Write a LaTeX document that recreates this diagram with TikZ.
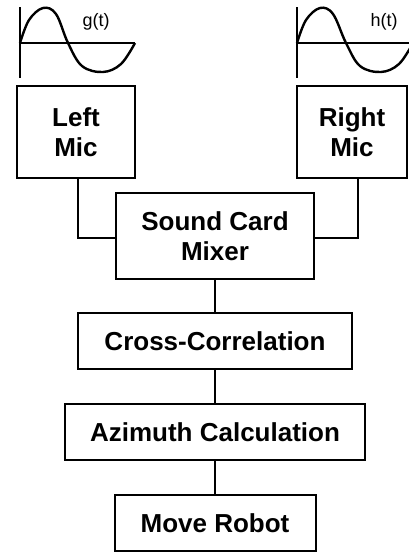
\documentclass[tikz,border=0pt]{standalone}
\usepackage{fontspec}
\setmainfont{Liberation Sans}
\begin{document}
\begin{tikzpicture}[x=1pt,y=-1pt,
  blk/.style={draw=black,line width=2pt,align=center,inner sep=0pt,
    font=\fontsize{26}{30}\selectfont\bfseries},
  wire/.style={line width=2pt},
  wave/.style={line width=2.4pt},
  lbl/.style={font=\fontsize{18}{20}\selectfont,inner sep=0pt}]
\useasboundingbox (0,0) rectangle (409,554);
\begin{scope}
\clip (0,0) rectangle (409,554);
% left signal
\draw[wave] (20,7) -- (20,78);
\draw[wave] (20,43) -- (135,43);
\draw[wave] plot[smooth,tension=0.6] coordinates {(20,43) (29,20) (43,8) (56,14) (68,43) (82,66) (103,72) (121,64) (135,43)};
% right signal
\draw[wave] (297,7) -- (297,78);
\draw[wave] (297,43) -- (409,43);
\draw[wave] plot[smooth,tension=0.6] coordinates {(297,43) (306,20) (320,8) (333,14) (346,43) (360,66) (381,72) (399,64) (413,43)};
\end{scope}
\node[lbl] (g) at (96,22) {g(t)};
\node[lbl] (h) at (384,22) {h(t)};
% blocks
\node[blk,minimum width=118pt,minimum height=92pt] (lm) at (76,132) {Left\\Mic};
\node[blk,minimum width=110pt,minimum height=92pt] (rm) at (352,132) {Right\\Mic};
\node[blk,minimum width=198pt,minimum height=86pt] (mix) at (215,236) {Sound Card\\Mixer};
\node[blk,minimum width=274pt,minimum height=56pt] (cc) at (215,341) {Cross-Correlation};
\node[blk,minimum width=300pt,minimum height=56pt] (az) at (215,432) {Azimuth Calculation};
\node[blk,minimum width=201pt,minimum height=56pt] (mr) at (215,523) {Move Robot};
% connectors
\draw[wire] (lm.south -| 78,0) |- (mix.west |- 0,238);
\draw[wire] (rm.south -| 358,0) |- (mix.east |- 0,238);
\draw[wire] (mix) -- (cc);
\draw[wire] (cc) -- (az);
\draw[wire] (az) -- (mr);
\end{tikzpicture}
\end{document}
